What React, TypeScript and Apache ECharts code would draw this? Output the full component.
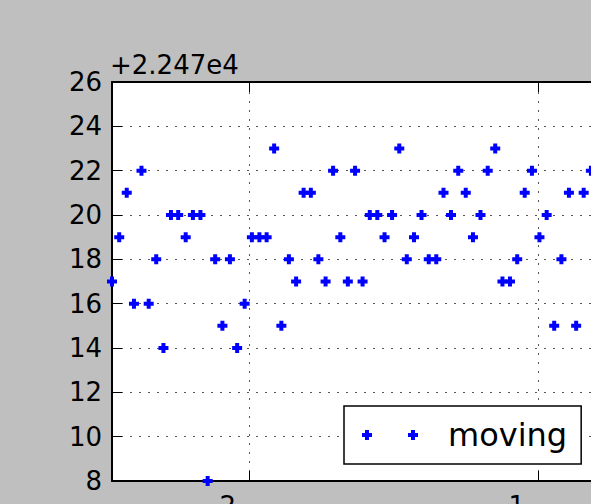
import React, { useEffect, useRef } from "react";
import * as echarts from "echarts";

// x positions of the samples
const xValues = [
  -2.474, -2.449, -2.423, -2.398, -2.372, -2.347, -2.321, -2.296, -2.27, -2.245,
  -2.219, -2.194, -2.168, -2.143, -2.117, -2.092, -2.066, -2.041, -2.015, -1.99,
  -1.964, -1.939, -1.913, -1.888, -1.862, -1.837, -1.811, -1.786, -1.76, -1.735,
  -1.709, -1.684, -1.658, -1.633, -1.607, -1.582, -1.556, -1.531, -1.505, -1.48,
  -1.454, -1.429, -1.403, -1.378, -1.352, -1.327, -1.301, -1.276, -1.25, -1.225,
  -1.199, -1.174, -1.148, -1.123, -1.097, -1.072, -1.046, -1.021, -0.995, -0.97,
  -0.944, -0.919, -0.893, -0.868, -0.842, -0.817,
];

// "moving" values
const yValues = [
  22487, 22489, 22491, 22486, 22492, 22486, 22488, 22484, 22490, 22490,
  22489, 22490, 22490, 22478, 22488, 22485, 22488, 22484, 22486, 22489,
  22489, 22489, 22493, 22485, 22488, 22487, 22491, 22491, 22488, 22487,
  22492, 22489, 22487, 22492, 22487, 22490, 22490, 22489, 22490, 22493,
  22488, 22489, 22490, 22488, 22488, 22491, 22490, 22492, 22491, 22489,
  22490, 22492, 22493, 22487, 22487, 22488, 22491, 22492, 22489, 22490,
  22485, 22488, 22491, 22485, 22491, 22492,
];

const seriesName = "moving";
const yOffset = 22470;
const offsetLabel = "+2.247e4";
const xTicks = [-2, -1];
const xRange = [-2.474, -0.6125];
const yRange = [22478, 22496];

const FONT = "DejaVu Sans";
const MARK = "path://M3,0h4v3h3v4h-3v3h-4v-3h-3v-4h3z";
const LEGEND_MARK =
  "path://M3,0h4v3h3v4h-3v3h-4v-3h-3v-4h3zM49,0h4v3h3v4h-3v3h-4v-3h-3v-4h3z";

export default function App() {
  const ref = useRef<HTMLDivElement>(null);
  useEffect(() => {
    if (!ref.current) return;
    const chart = echarts.init(ref.current, null, { renderer: "svg" });
    const grid = { left: 112, top: 82, width: 538, height: 399 };
    const dotted = { color: "#000", width: 1, opacity: 0.65, type: [2, 7] as any };
    const tick = { show: true, inside: true, length: 10, customValues: xTicks, lineStyle: { color: "#000", width: 1 } };
    chart.setOption({
      animation: false,
      backgroundColor: "transparent",
      textStyle: { fontFamily: FONT },
      grid: { ...grid, show: false },
      xAxis: [
        {
          type: "value",
          position: "bottom",
          min: xRange[0],
          max: xRange[1],
          axisLine: { show: true, onZero: false, lineStyle: { color: "#000", width: 2 } },
          axisTick: tick,
          axisLabel: {
            show: true,
            customValues: xTicks,
            color: "#000",
            fontSize: 26,
            fontFamily: FONT,
            margin: 12,
            align: "right",
            padding: [0, 13, 0, 0],
          },
          splitLine: { show: false },
        },
        {
          type: "value",
          position: "top",
          min: xRange[0],
          max: xRange[1],
          axisLine: { show: true, onZero: false, lineStyle: { color: "#000", width: 2 } },
          axisTick: tick,
          axisLabel: { show: false },
          splitLine: { show: false },
        },
      ],
      yAxis: [
        {
          type: "value",
          min: yRange[0],
          max: yRange[1],
          interval: 2,
          axisLine: { show: true, onZero: false, lineStyle: { color: "#000", width: 2 } },
          axisTick: { show: true, inside: true, length: 10, lineStyle: { color: "#000", width: 1 } },
          axisLabel: {
            color: "#000",
            fontSize: 26,
            fontFamily: FONT,
            margin: 10,
            formatter: (v: number) => String(Math.round(v - yOffset)),
          },
          splitLine: { show: true, lineStyle: dotted },
        },
      ],
      legend: {
        left: 344,
        top: 406,
        padding: [13, 14, 13, 18],
        backgroundColor: "#fff",
        borderColor: "#000",
        borderWidth: 1.5,
        borderRadius: 0,
        itemWidth: 56,
        itemHeight: 10,
        icon: LEGEND_MARK,
        textStyle: {
          fontSize: 32,
          fontFamily: FONT,
          color: "#000",
          padding: [0, 0, 0, 25],
        },
        data: [seriesName],
      },
      graphic: [
        {
          type: "text",
          x: 110,
          y: 52,
          style: {
            text: offsetLabel,
            font: `26px ${FONT}`,
            fill: "#000",
            verticalAlign: "top",
          },
        },
      ],
      series: [
        {
          name: seriesName,
          type: "scatter",
          xAxisIndex: 0,
          yAxisIndex: 0,
          symbol: MARK,
          symbolSize: 10,
          itemStyle: { color: "#0000ff", opacity: 1 },
          data: xValues.map((x, i) => [x, yValues[i]]),
          markLine: {
            silent: true,
            symbol: "none",
            label: { show: false },
            lineStyle: dotted,
            z: 1,
            data: xTicks.map((v) => ({ xAxis: v })),
          },
        },
      ],
    });
    return () => chart.dispose();
  }, []);
  return (
    <div
      style={{
        position: "fixed",
        left: 0,
        top: 0,
        width: 591,
        height: 504,
        overflow: "hidden",
        background: "#bfbfbf",
      }}
    >
      <div
        style={{
          position: "absolute",
          left: 0,
          top: 0,
          width: 700,
          height: 600,
        }}
      >
        <div
          style={{
            position: "absolute",
            left: 112,
            top: 82,
            width: 538,
            height: 399,
            background: "#fff",
          }}
        />
        <div ref={ref} style={{ position: "absolute", left: 0, top: 0, width: 700, height: 600 }} />
      </div>
    </div>
  );
}
